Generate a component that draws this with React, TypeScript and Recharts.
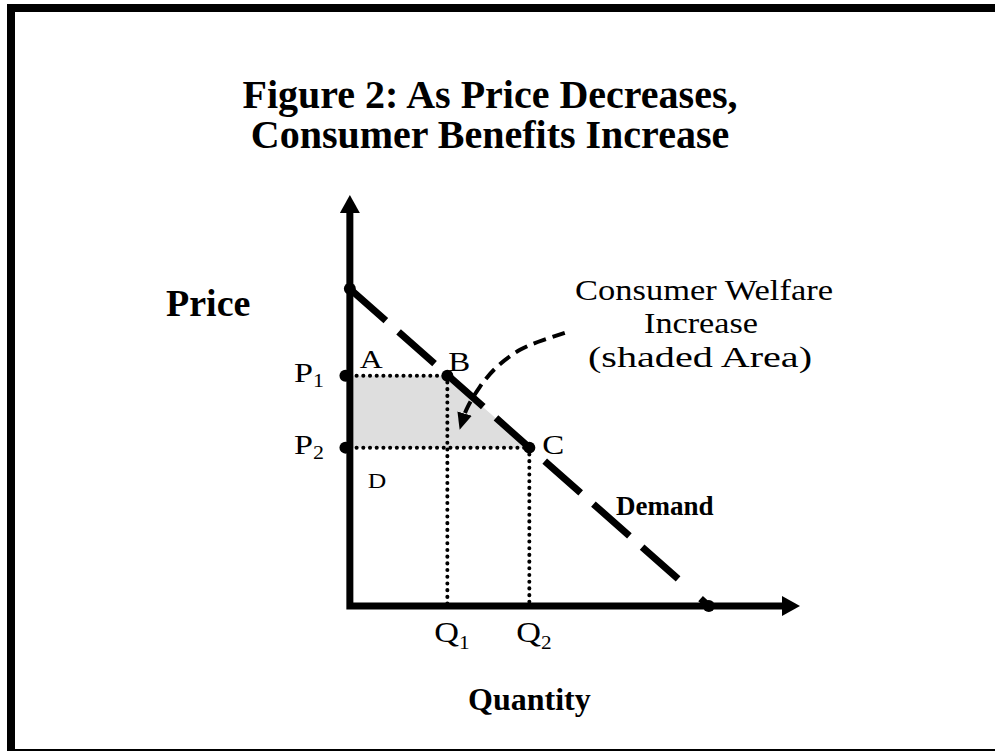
import React from 'react';
import { ComposedChart, Line, Area, Scatter, XAxis, YAxis } from 'recharts';

const SERIF = "'Liberation Serif', 'Times New Roman', Times, serif";

// axis ticks (quantity / price levels)
const quantityTicks = [2.2, 4.05];
const quantitySubs = ['1', '2'];
const priceTicks = [5.7, 3.92];
const priceSubs = ['1', '2'];

// series
const axisFrame = [
  { x: 0, y: 10 },
  { x: 0, y: 0 },
  { x: 10, y: 0 },
];
const demandCurve = [
  { x: 0, y: 7.85 },
  { x: 8.1, y: 0 },
];
const welfareArea = [
  { x: 0, y: 5.7 },
  { x: 2.2, y: 5.7 },
  { x: 4.05, y: 3.92 },
];
const welfareBase = 3.92;
const guideP1 = [
  { x: 0, y: 5.7 },
  { x: 2.2, y: 5.7 },
];
const guideP2 = [
  { x: 0, y: 3.92 },
  { x: 4.05, y: 3.92 },
];
const guideQ1 = [
  { x: 2.2, y: 5.7 },
  { x: 2.2, y: 0 },
];
const guideQ2 = [
  { x: 4.05, y: 3.92 },
  { x: 4.05, y: 0 },
];
const calloutCurve = [
  { x: 4.85, y: 6.76 },
  { x: 4.36, y: 6.58 },
  { x: 3.84, y: 6.34 },
  { x: 3.32, y: 5.92 },
  { x: 2.93, y: 5.42 },
  { x: 2.66, y: 4.93 },
  { x: 2.55, y: 4.62 },
];
const markedPoints = [
  { x: 0, y: 7.85 },
  { x: -0.1, y: 5.7 },
  { x: -0.1, y: 3.92 },
  { x: 2.2, y: 5.7 },
  { x: 4.05, y: 3.92 },
  { x: 8.1, y: 0 },
];
const pointNames = [
  { x: 0, y: 5.7, name: 'A' },
  { x: 2.2, y: 5.7, name: 'B' },
  { x: 4.05, y: 3.92, name: 'C' },
  { x: 0, y: 3.92, name: 'D' },
];

const nameStyle: Record<string, { dx: number; dy: number; size: number }> = {
  A: { dx: 10, dy: -8, size: 26 },
  B: { dx: 1, dy: -5, size: 27 },
  C: { dx: 13, dy: 6, size: 27 },
  D: { dx: 18, dy: 40, size: 21 },
};

const Dot = (p: any) => <circle cx={p.cx} cy={p.cy} r={6} fill="#000" />;

const NameTag = (p: any) => {
  const s = nameStyle[p.payload.name];
  return (
    <text
      transform={`translate(${p.cx + s.dx},${p.cy + s.dy}) scale(1.22,1)`}
      fontFamily={SERIF}
      fontSize={s.size}
      fill="#000"
    >
      {p.payload.name}
    </text>
  );
};

const PriceTick = (p: any) => {
  const sub = priceSubs[priceTicks.indexOf(p.payload.value)];
  return (
    <text transform={`translate(${p.x - 47},${p.y + 6}) scale(1.22,1)`} fontFamily={SERIF} fontSize={28} fill="#000">
      P<tspan fontSize={18} dy={5}>{sub}</tspan>
    </text>
  );
};

const QuantityTick = (p: any) => {
  const sub = quantitySubs[quantityTicks.indexOf(p.payload.value)];
  return (
    <text transform={`translate(${p.x - 13},${p.y + 36}) scale(1.18,1)`} fontFamily={SERIF} fontSize={29} fill="#000">
      Q<tspan fontSize={18} dy={7}>{sub}</tspan>
    </text>
  );
};

const Fitted = ({ x, y, w, size = 30, children }: any) => (
  <text x={x} y={y} textLength={w} lengthAdjust="spacingAndGlyphs" fontFamily={SERIF} fontSize={size} fill="#000">
    {children}
  </text>
);

export default function App() {
  return (
    <div style={{ position: 'absolute', left: 0, top: 0, width: 995, height: 751, background: '#fff', overflow: 'hidden' }}>
      <svg width={0} height={0} style={{ position: 'absolute' }}>
        <defs>
          <marker id="axisHead" viewBox="0 0 18 20" refX={11} refY={10} markerWidth={18} markerHeight={20}
            markerUnits="userSpaceOnUse" orient="auto-start-reverse">
            <path d="M0,0 L18,10 L0,20 z" fill="#000" />
          </marker>
          <marker id="calloutHead" viewBox="0 0 17 15" refX={6} refY={7.5} markerWidth={17} markerHeight={15}
            markerUnits="userSpaceOnUse" orient="auto">
            <path d="M0,0 L17,7.5 L0,15 z" fill="#000" />
          </marker>
        </defs>
      </svg>

      <div style={{ position: 'absolute', left: 7, top: 4, width: 988, height: 747, boxSizing: 'border-box',
        borderTop: '8px solid #000', borderLeft: '8px solid #000', borderBottom: '2px solid #000' }} />

      <div style={{ position: 'absolute', left: 0, top: 0 }}>
        <ComposedChart width={995} height={751} margin={{ top: 202, right: 202, bottom: 105, left: 281 }}>
          <XAxis type="number" dataKey="x" domain={[-0.2, 10]} ticks={quantityTicks} interval={0}
            axisLine={false} tickLine={false} tickSize={0} tickMargin={0} height={40} tick={<QuantityTick />} />
          <YAxis type="number" dataKey="y" domain={[0, 10]} ticks={priceTicks} interval={0}
            axisLine={false} tickLine={false} tickSize={0} tickMargin={0} width={60} tick={<PriceTick />} />
          <Area data={welfareArea} dataKey="y" type="linear" baseValue={welfareBase}
            fill="#dedede" fillOpacity={1} stroke="none" isAnimationActive={false} />
          <Line data={guideP1} dataKey="y" type="linear" stroke="#000" strokeWidth={4} strokeDasharray="0.1 6.6"
            strokeLinecap="round" dot={false} activeDot={false} isAnimationActive={false} />
          <Line data={guideP2} dataKey="y" type="linear" stroke="#000" strokeWidth={4} strokeDasharray="0.1 6.6"
            strokeLinecap="round" dot={false} activeDot={false} isAnimationActive={false} />
          <Line data={guideQ1} dataKey="y" type="linear" stroke="#000" strokeWidth={4} strokeDasharray="0.1 6.6"
            strokeLinecap="round" dot={false} activeDot={false} isAnimationActive={false} />
          <Line data={guideQ2} dataKey="y" type="linear" stroke="#000" strokeWidth={4} strokeDasharray="0.1 6.6"
            strokeLinecap="round" dot={false} activeDot={false} isAnimationActive={false} />
          <Line data={demandCurve} dataKey="y" type="linear" stroke="#000" strokeWidth={7} strokeDasharray="48 17 48 17 48 17 48 17 48 17 48 17 48 30"
            dot={false} activeDot={false} isAnimationActive={false} />
          <Line data={calloutCurve} dataKey="y" type="natural" stroke="#000" strokeWidth={4} strokeDasharray="13 7"
            markerEnd="url(#calloutHead)" dot={false} activeDot={false} isAnimationActive={false} />
          <Line data={axisFrame} dataKey="y" type="linear" stroke="#000" strokeWidth={7} strokeLinejoin="miter"
            markerStart="url(#axisHead)" markerEnd="url(#axisHead)" dot={false} activeDot={false} isAnimationActive={false} />
          <Scatter data={markedPoints} shape={Dot} isAnimationActive={false} />
          <Scatter data={pointNames} shape={NameTag} isAnimationActive={false} />
        </ComposedChart>
      </div>

      <svg width={995} height={751} style={{ position: 'absolute', left: 0, top: 0, pointerEvents: 'none' }}>
        <text x={490} y={108} textAnchor="middle" fontFamily={SERIF} fontWeight="bold" fontSize={40}>
          Figure 2: As Price Decreases,
        </text>
        <text x={490} y={148} textAnchor="middle" fontFamily={SERIF} fontWeight="bold" fontSize={40}>
          Consumer Benefits Increase
        </text>
        <text x={166} y={316} fontFamily={SERIF} fontWeight="bold" fontSize={38}>Price</text>
        <text x={468} y={710} fontFamily={SERIF} fontWeight="bold" fontSize={32}>Quantity</text>
        <text x={616} y={515} fontFamily={SERIF} fontWeight="bold" fontSize={27}>Demand</text>
        <Fitted x={575} y={300} w={258}>Consumer Welfare</Fitted>
        <Fitted x={644} y={333} w={114}>Increase</Fitted>
        <Fitted x={588} y={367} w={224}>(shaded Area)</Fitted>
      </svg>
    </div>
  );
}
